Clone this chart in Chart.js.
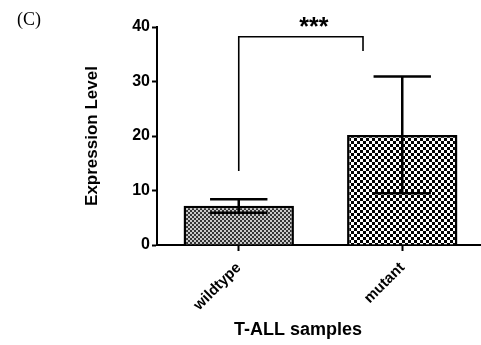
<!DOCTYPE html>
<html>
<head>
<meta charset="utf-8">
<script src="https://cdn.jsdelivr.net/npm/chart.js"></script>
<style>
html, body { margin: 0; padding: 0; overflow: hidden; background: #fff; }
#wrap { width: 484px; height: 345px; }
</style>
</head>
<body>
<div id="wrap"><canvas id="myChart"></canvas></div>
<script>
const groups = ['wildtype', 'mutant'];
const means = [7.2, 20.2];
const errUp = [1.2, 10.7];
const errDown = [1.3, 10.7];
const yTicks = [0, 10, 20, 30, 40];
// significance bracket: x in category index units, y in data units (left leg, top, right leg)
const bracketX = [0, 0.76];
const bracketY = [13.6, 38.2, 35.6];
const sigLabel = '***';

const FONT = 'Liberation Sans, Arial, sans-serif';

function checker(cell, dark, light) {
	const c = document.createElement('canvas');
	c.width = cell * 2;
	c.height = cell * 2;
	const g = c.getContext('2d');
	g.fillStyle = light;
	g.fillRect(0, 0, c.width, c.height);
	g.fillStyle = dark;
	g.fillRect(0, 0, cell, cell);
	g.fillRect(cell, cell, cell, cell);
	return g.createPattern(c, 'repeat');
}

const ctx = document.getElementById('myChart');
const fills = [
	checker(2, '#333', '#c8c8c8'),
	checker(3, '#000', '#fff')
];

const extras = {
	id: 'extras',
	afterDatasetsDraw(chart) {
		const c = chart.ctx;
		const x = chart.scales.x;
		const y = chart.scales.y;
		const meta = chart.getDatasetMeta(0);
		c.save();
		c.strokeStyle = '#000';
		c.lineCap = 'butt';
		// error bars
		c.lineWidth = 2.5;
		meta.data.forEach(function (bar, i) {
			const cx = bar.x;
			const hw = bar.width * 0.26;
			const yt = y.getPixelForValue(means[i] + errUp[i]);
			const yb = y.getPixelForValue(means[i] - errDown[i]);
			c.beginPath();
			c.moveTo(cx, yb);
			c.lineTo(cx, yt);
			c.moveTo(cx - hw, yt);
			c.lineTo(cx + hw, yt);
			c.moveTo(cx - hw, yb);
			c.lineTo(cx + hw, yb);
			c.stroke();
		});
		// bracket
		const x0 = x.getPixelForValue(bracketX[0]);
		const x1 = x.getPixelForValue(bracketX[1]);
		const yTop = y.getPixelForValue(bracketY[1]);
		c.lineWidth = 1.6;
		c.beginPath();
		c.moveTo(x0, y.getPixelForValue(bracketY[0]));
		c.lineTo(x0, yTop);
		c.lineTo(x1, yTop);
		c.lineTo(x1, y.getPixelForValue(bracketY[2]));
		c.stroke();
		c.fillStyle = '#000';
		c.textAlign = 'center';
		c.textBaseline = 'alphabetic';
		c.font = 'bold 25px ' + FONT;
		c.fillText(sigLabel, (x0 + x1) / 2 + 13, yTop - 2);
		// x axis title
		c.font = 'bold 18px ' + FONT;
		c.fillText('T-ALL samples', 298, 335);
		// panel label
		c.font = '18px Liberation Serif, Times New Roman, serif';
		c.textAlign = 'left';
		c.fillText('(C)', 17, 25);
		c.restore();
	}
};

const myChart = new Chart(ctx, {
	type: 'bar',
	data: {
		labels: groups,
		datasets: [{
			data: means,
			backgroundColor: fills,
			borderColor: '#000',
			borderWidth: 2.5,
			borderSkipped: 'start',
			barPercentage: 0.675,
			categoryPercentage: 1
		}]
	},
	options: {
		responsive: true,
		maintainAspectRatio: false,
		animation: false,
		layout: { padding: { top: 27, right: 0, left: 0, bottom: 0 } },
		plugins: {
			legend: { display: false },
			tooltip: { enabled: false }
		},
		scales: {
			x: {
				afterFit: function (s) { s.height = 100; },
				grid: {
					offset: false,
					drawOnChartArea: false,
					tickLength: 6,
					tickWidth: 2,
					tickColor: '#000'
				},
				border: { color: '#000', width: 2 },
				ticks: {
					color: '#000',
					font: { family: FONT, size: 15, weight: 'bold' },
					minRotation: 45,
					maxRotation: 45,
					padding: 8
				}
			},
			y: {
				min: 0,
				max: 40,
				afterFit: function (s) { s.width = 157; },
				afterBuildTicks: function (s) { s.ticks = yTicks.map(function (v) { return { value: v }; }); },
				grid: {
					drawOnChartArea: false,
					tickLength: 5,
					tickWidth: 2,
					tickColor: '#000'
				},
				border: { color: '#000', width: 2 },
				ticks: {
					color: '#000',
					font: { family: FONT, size: 16, weight: 'bold' },
					padding: 2
				},
				title: {
					display: true,
					text: 'Expression Level',
					color: '#000',
					font: { family: FONT, size: 17, weight: 'bold' },
					padding: { top: 82, bottom: 0 }
				}
			}
		}
	},
	plugins: [extras]
});
</script>
</body>
</html>
